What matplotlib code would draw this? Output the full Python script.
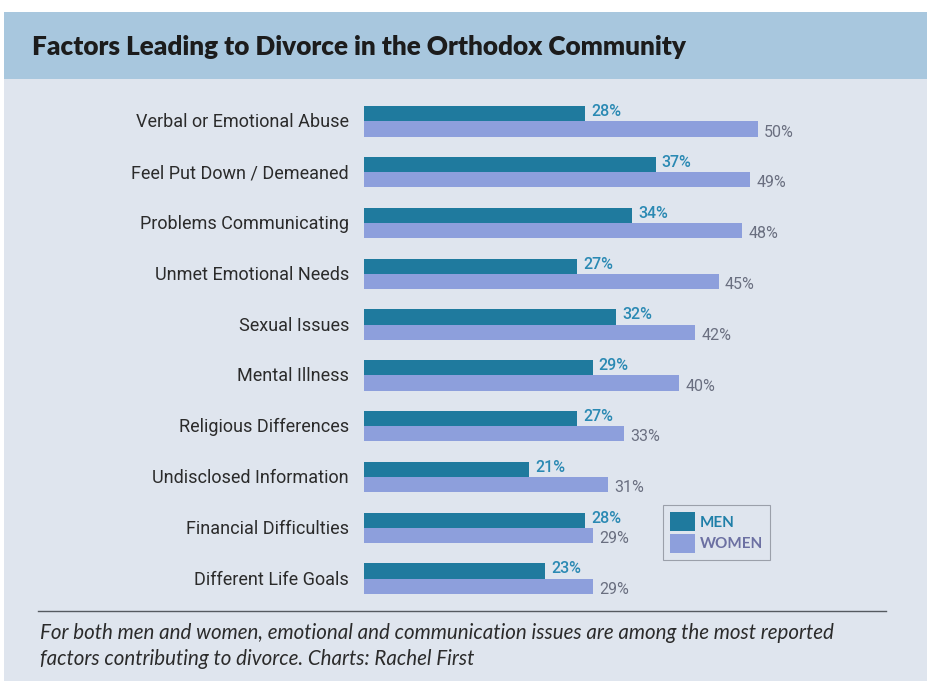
import matplotlib
matplotlib.use('Agg')
import matplotlib.pyplot as plt
from matplotlib.patches import Rectangle, Patch
from matplotlib.lines import Line2D

# Survey results, percent reporting each factor
factors = ['Verbal or Emotional Abuse', 'Feel Put Down / Demeaned',
           'Problems Communicating', 'Unmet Emotional Needs', 'Sexual Issues',
           'Mental Illness', 'Religious Differences', 'Undisclosed Information',
           'Financial Difficulties', 'Different Life Goals']
men = [28, 37, 34, 27, 32, 29, 27, 21, 28, 23]
women = [50, 49, 48, 45, 42, 40, 33, 31, 29, 29]

title = 'Factors Leading to Divorce in the Orthodox Community'
caption = ('For both men and women, emotional and communication issues are among the most reported\n'
           'factors contributing to divorce. Charts: Rachel First')

men_col = '#1f7a9e'
women_col = '#8d9fdc'
bg_col = '#dfe5ee'
band_col = '#a8c7de'

W, H = 928, 681
fig = plt.figure(figsize=(W/100, H/100), dpi=100)
fig.patch.set_facecolor('white')

def px(x, y, w, h):
    # pixel box (top-left origin) -> figure fraction
    return [x/W, 1 - (y + h)/H, w/W, h/H]

b = px(4, 79, W - 4, H - 79)
fig.patches.append(Rectangle((b[0], b[1]), b[2], b[3], transform=fig.transFigure,
                             facecolor=bg_col, edgecolor='none', zorder=-2))
b = px(4, 12, W - 4, 67)
fig.patches.append(Rectangle((b[0], b[1]), b[2], b[3], transform=fig.transFigure,
                             facecolor=band_col, edgecolor='none', zorder=-2))

lato = ['Lato', 'DejaVu Sans']
fig.text(32/W, 1 - 47/H, title, family=lato, weight='heavy', fontsize=18.8,
         color='#1c1c1c', va='center', ha='left')

pct = 7.88  # pixels per percentage point
ax = fig.add_axes(px(364, 96, pct*60, 508))
ax.set_xlim(0, 60)
ax.set_ylim(9.5, -0.5)
ax.axis('off')

bh = 0.3
pos = list(range(len(factors)))
ax.barh([p - bh/2 for p in pos], men, height=bh, color=men_col, zorder=2)
ax.barh([p + bh/2 for p in pos], women, height=bh, color=women_col, zorder=2)

for p, f, m, w in zip(pos, factors, men, women):
    ax.text(-1.9, p + 0.02, f, ha='right', va='center', fontsize=13,
            family=['Roboto', 'DejaVu Sans'], color='#2b2b2b')
    ax.text(m + 0.8, p - bh/2 - 0.04, f'{m}%', ha='left', va='center', fontsize=11.5,
            family=['Roboto', 'DejaVu Sans'], weight='medium', color='#2a89b3')
    ax.text(w + 0.8, p + bh/2 + 0.06, f'{w}%', ha='left', va='center', fontsize=11.5,
            family=['Roboto', 'DejaVu Sans'], color='#6a6f80')

handles = [Patch(facecolor=men_col, edgecolor='none', label='MEN'),
           Patch(facecolor=women_col, edgecolor='none', label='WOMEN')]
lb = px(668, 502, 97, 61)
leg = fig.legend(handles=handles, loc='center', bbox_to_anchor=(lb[0] + lb[2]/2, lb[1] + lb[3]/2),
                 frameon=True, fancybox=False, handlelength=1.6, handleheight=1.6,
                 handletextpad=0.3, labelspacing=0.15, borderpad=0.45, borderaxespad=0,
                 prop={'family': lato, 'weight': 'bold', 'size': 11})
leg.get_frame().set_facecolor(bg_col)
leg.get_frame().set_edgecolor('#8a8f99')
leg.get_frame().set_linewidth(0.8)
leg.get_texts()[0].set_color('#1f7fa8')
leg.get_texts()[1].set_color('#6c70a2')

fig.add_artist(Line2D([38/W, 886/W], [1 - 611/H, 1 - 611/H], transform=fig.transFigure,
                      color='#555a60', linewidth=1.0))
fig.text(40/W, 1 - 646/H, caption, family=lato, style='italic', fontsize=14.8,
         color='#2b2b2b', va='center', ha='left', linespacing=1.35)

fig.savefig('out.png', dpi=100, facecolor=fig.get_facecolor())
